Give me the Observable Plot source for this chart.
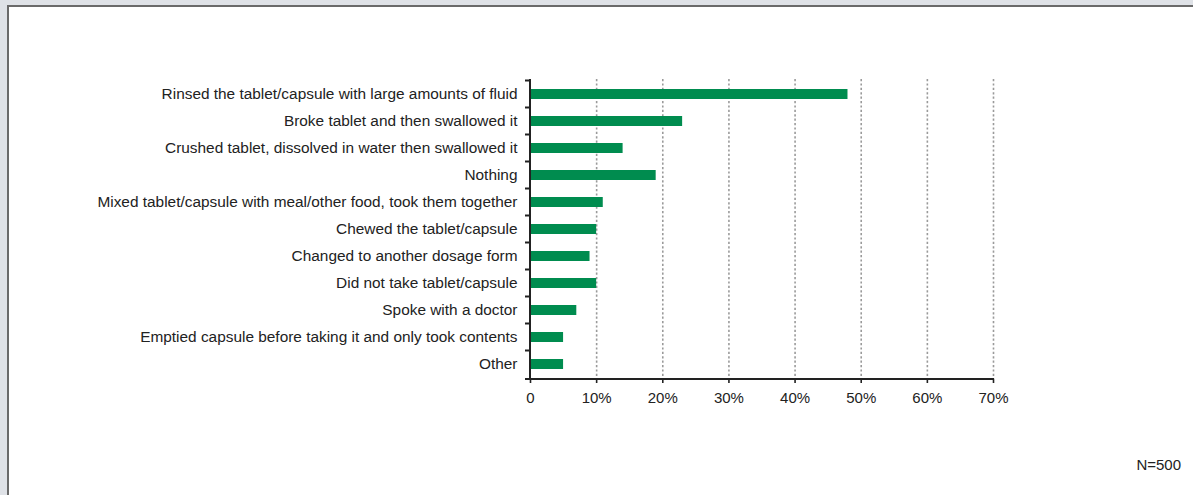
<!DOCTYPE html>
<html>
<head>
<meta charset="utf-8">
<script src="https://cdn.jsdelivr.net/npm/d3@7"></script>
<script src="https://cdn.jsdelivr.net/npm/@observablehq/plot@0.6"></script>
<style>
  html, body { margin: 0; padding: 0; background: #dfe2e7; width: 1193px; height: 495px; overflow: hidden; }
  #panel { position: absolute; left: 7px; top: 5px; width: 1186px; height: 490px; background: #fff;
           border-top: 2px solid #6a6a6a; border-left: 2px solid #6a6a6a; box-sizing: border-box; }
  #chart { position: absolute; left: 0; top: 0; }
  #note { position: absolute; right: 12px; top: 456px; font: 15px "Liberation Sans", Arial, sans-serif; color: #222; }
</style>
</head>
<body>
<div id="panel"></div>
<div id="chart"></div>
<div id="note">N=500</div>
<script>
const categories = [
  "Rinsed the tablet/capsule with large amounts of fluid",
  "Broke tablet and then swallowed it",
  "Crushed tablet, dissolved in water then swallowed it",
  "Nothing",
  "Mixed tablet/capsule with meal/other food, took them together",
  "Chewed the tablet/capsule",
  "Changed to another dosage form",
  "Did not take tablet/capsule",
  "Spoke with a doctor",
  "Emptied capsule before taking it and only took contents",
  "Other"
];
const values = [48, 23, 14, 19, 11, 10, 9, 10, 7, 5, 5];
const xTicks = [0, 10, 20, 30, 40, 50, 60, 70];
const xTickLabels = ["0", "10%", "20%", "30%", "40%", "50%", "60%", "70%"];

const data = categories.map((c, i) => ({category: c, value: values[i]}));

const pInner = 0.64;

const chart = Plot.plot({
  width: 1193,
  height: 420,
  marginLeft: 530,
  marginRight: 200,
  marginTop: 79,
  marginBottom: 41,
  style: {fontFamily: "'Liberation Sans', Arial, sans-serif", fontSize: "15px", color: "#222", background: "transparent", overflow: "visible"},
  x: {domain: [0, 70], ticks: xTicks, label: null},
  y: {domain: categories, paddingInner: pInner, paddingOuter: pInner / 2, label: null},
  marks: [
    Plot.gridX(xTicks.slice(1), {stroke: "#9a9a9a", strokeOpacity: 1, strokeWidth: 1.6, strokeDasharray: "2.2,2.2"}),
    Plot.barX(data, {x: "value", y: "category", fill: "#008c4f"}),
    Plot.axisY({tickSize: 0, tickPadding: 13, fontSize: 15.4, fill: "#222", label: null}),
    Plot.axisX(xTicks, {tickSize: 4, tickPadding: 9, stroke: "#222", strokeWidth: 1.6, fontSize: 15, fill: "#222", label: null,
      tickFormat: (d) => xTickLabels[xTicks.indexOf(d)]}),
    // y-axis line, x-axis baseline and band-boundary ticks, drawn from the scales
    (index, scales, values, dims) => {
      const g = d3.create("svg:g").attr("stroke", "#222").attr("stroke-width", 2).attr("fill", "none");
      const yS = scales.scales.y;
      const step = yS.step, bw = yS.bandwidth;
      const x0 = scales.x(0);
      const top = dims.marginTop, bottom = dims.height - dims.marginBottom;
      g.append("line").attr("x1", x0).attr("x2", x0).attr("y1", top).attr("y2", bottom + 1);
      const bounds = categories.map(c => scales.y(c) - (step - bw) / 2);
      bounds.push(bottom);
      for (const b of bounds) {
        g.append("line").attr("x1", x0 - 5).attr("x2", x0).attr("y1", b).attr("y2", b);
      }
      g.append("line").attr("x1", x0 - 1).attr("x2", scales.x(70) + 1).attr("y1", bottom).attr("y2", bottom);
      return g.node();
    }
  ]
});
document.getElementById("chart").appendChild(chart);
</script>
</body>
</html>
